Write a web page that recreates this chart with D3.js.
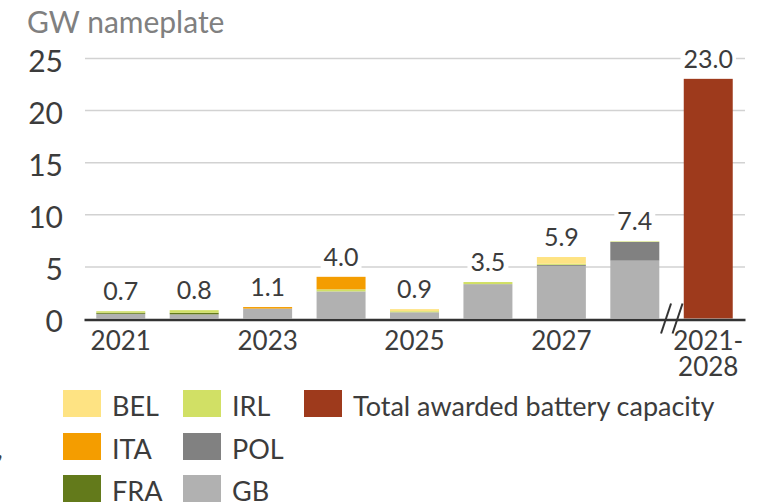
<!DOCTYPE html>
<html lang="en">
<head>
<meta charset="UTF-8">
<title>Battery capacity awarded</title>
<script src="https://cdn.jsdelivr.net/npm/d3@7"></script>
<style>
    body { margin: 0; background: #fff; }
    svg { display: block; }
    svg text { font-family: Lato, "DejaVu Sans", sans-serif; fill: #3c3c3c; }
    .title { fill: #808080; font-size: 30px; }
    .yaxis text { font-size: 30px; }
    .xaxis text { font-size: 26px; }
    .value { font-size: 25px; }
    .legend text { font-size: 27px; }
</style>
</head>
<body>
<svg id="chart" width="758" height="503"></svg>
<script>
// data
const years = ["2021", "2022", "2023", "2024", "2025", "2026", "2027", "2028"];
const totalCat = "2021-2028";
const gb  = [0.45, 0.40, 0.95, 2.60, 0.60, 3.30, 5.05, 5.55];
const pol = [0.00, 0.00, 0.00, 0.00, 0.00, 0.00, 0.10, 1.80];
const fra = [0.10, 0.15, 0.00, 0.00, 0.00, 0.00, 0.00, 0.00];
const irl = [0.15, 0.25, 0.00, 0.20, 0.10, 0.20, 0.10, 0.05];
const ita = [0.00, 0.00, 0.15, 1.20, 0.00, 0.00, 0.00, 0.00];
const bel = [0.00, 0.00, 0.00, 0.00, 0.20, 0.00, 0.65, 0.00];
const totals = ["0.7", "0.8", "1.1", "4.0", "0.9", "3.5", "5.9", "7.4"];
const totalAwarded = 23.0;
const totalLabel = "23.0";
const yTicks = [0, 5, 10, 15, 20, 25];
const xLabels = {"2021": "2021", "2023": "2023", "2025": "2025", "2027": "2027", "2021-2028": "2021-|2028"};

const series = ["GB", "POL", "FRA", "IRL", "ITA", "BEL"];
const colors = {
    GB: "#b1b1b1", POL: "#818181", FRA: "#637a1b", IRL: "#d1e065",
    ITA: "#f49d00", BEL: "#fee383", Total: "#9e3a1c"
};
const legendItems = [
    ["BEL", "BEL"], ["IRL", "IRL"], ["Total", "Total awarded battery capacity"],
    ["ITA", "ITA"], ["POL", "POL"],
    ["FRA", "FRA"], ["GB", "GB"]
];
const legendCells = [[0, 0], [1, 0], [2, 0], [0, 1], [1, 1], [0, 2], [1, 2]];

const rows = years.map((yr, i) => ({
    year: yr, GB: gb[i], POL: pol[i], FRA: fra[i], IRL: irl[i], ITA: ita[i], BEL: bel[i]
}));

const svg = d3.select("#chart");

const x = d3.scaleBand()
    .domain(years.concat([totalCat]))
    .range([84, 745])
    .paddingInner(0.333)
    .paddingOuter(0.167);

const y = d3.scaleLinear().domain([0, 25]).range([318.5, 58]);

// title
svg.append("text").attr("class", "title")
    .attr("x", 27).attr("y", 33)
    .text("GW nameplate");

// y axis with gridlines
const yAxis = svg.append("g").attr("class", "yaxis")
    .attr("transform", "translate(745,0)")
    .call(d3.axisLeft(y).tickValues(yTicks).tickSize(660).tickPadding(22));
yAxis.select(".domain").remove();
yAxis.selectAll("line").attr("stroke", "#d2d2d2").attr("stroke-width", 1.5)
    .filter(d => d === 0).remove();
yAxis.selectAll("text").attr("dy", "0.44em").attr("fill", "#3c3c3c");

// stacked bars
const stack = d3.stack().keys(series)(rows);
svg.append("g").selectAll("g")
    .data(stack)
    .join("g")
    .attr("fill", d => colors[d.key])
    .selectAll("rect")
    .data(d => d)
    .join("rect")
    .attr("x", d => x(d.data.year))
    .attr("width", x.bandwidth())
    .attr("y", d => y(d[1]))
    .attr("height", d => y(d[0]) - y(d[1]));

// total bar
svg.append("rect")
    .attr("x", x(totalCat))
    .attr("width", x.bandwidth())
    .attr("y", y(totalAwarded))
    .attr("height", y(0) - y(totalAwarded))
    .attr("fill", colors.Total);

// value labels with white backing
const labelData = years.map((yr, i) => ({
    cat: yr, top: d3.sum(series, k => rows[i][k]), text: totals[i]
})).concat([{cat: totalCat, top: totalAwarded, text: totalLabel}]);

const labels = svg.append("g").selectAll("g")
    .data(labelData)
    .join("g");
labels.append("text")
    .attr("class", "value")
    .attr("text-anchor", "middle")
    .attr("x", d => x(d.cat) + x.bandwidth() / 2)
    .attr("y", d => y(d.top) - 11)
    .text(d => d.text);
labels.each(function () {
    const g = d3.select(this);
    const b = g.select("text").node().getBBox();
    g.insert("rect", "text")
        .attr("x", b.x - 3).attr("y", b.y)
        .attr("width", b.width + 6).attr("height", b.height)
        .attr("fill", "#fff");
});

// x axis
const xAxis = svg.append("g").attr("class", "xaxis")
    .attr("transform", "translate(0," + (y(0) + 1) + ")")
    .call(d3.axisBottom(x).tickSize(0).tickSizeOuter(0).tickPadding(12.5)
        .tickFormat(d => xLabels[d] || ""));
xAxis.select(".domain").attr("stroke", "#333").attr("stroke-width", 2.5);
xAxis.selectAll("text").attr("fill", "#3c3c3c").each(function (d) {
    const t = d3.select(this);
    const parts = (xLabels[d] || "").split("|");
    if (parts.length > 1) {
        t.text(null);
        parts.forEach((p, i) => {
            t.append("tspan").attr("x", 0).attr("dy", i === 0 ? "0.71em" : "1em").text(p);
        });
    }
});

// axis break marks
const brk = (x(years[years.length - 1]) + x.bandwidth() + x(totalCat)) / 2;
svg.append("g").attr("stroke", "#333").attr("stroke-width", 2)
    .selectAll("line")
    .data([-5.5, 6])
    .join("line")
    .attr("x1", d => brk + d - 5)
    .attr("y1", y(0) + 15)
    .attr("x2", d => brk + d + 5)
    .attr("y2", y(0) - 15);

// legend
const legend = svg.append("g").attr("class", "legend");
const colX = [63, 183, 304], rowY = [390, 433, 475];
legendItems.forEach(([key, name], i) => {
    const [c, r] = legendCells[i];
    legend.append("rect")
        .attr("x", colX[c]).attr("y", rowY[r])
        .attr("width", 38).attr("height", 27)
        .attr("fill", colors[key]);
    legend.append("text")
        .attr("x", colX[c] + 49).attr("y", rowY[r] + 26)
        .text(name);
});

// clipped stray mark at left edge
svg.append("text").attr("class", "value").attr("x", -3).attr("y", 458).text(",");
</script>
</body>
</html>
